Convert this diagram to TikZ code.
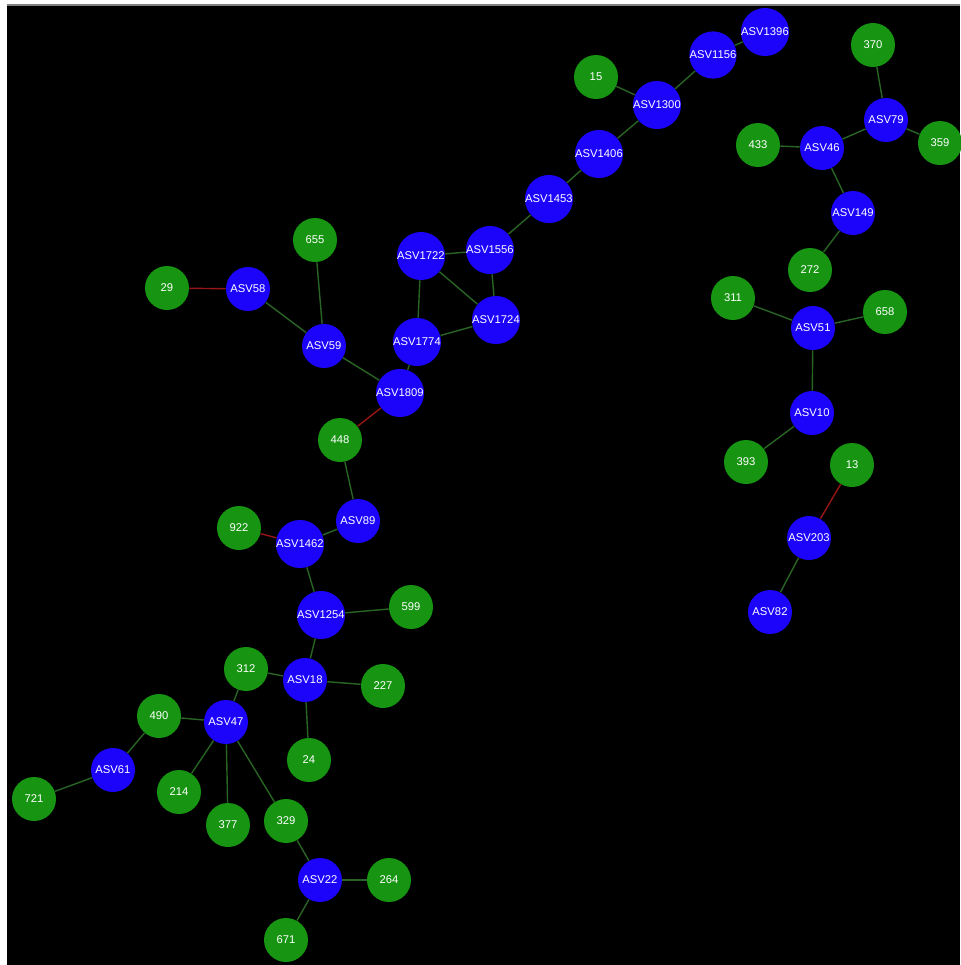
\documentclass[tikz,border=0pt]{standalone}
\usepackage{fontspec}
\setmainfont{Liberation Sans}
\definecolor{asvblue}{RGB}{28,4,250}
\definecolor{otugreen}{RGB}{22,148,18}
\definecolor{poscol}{RGB}{40,100,36}
\definecolor{negcol}{RGB}{150,22,22}
\begin{document}
\begin{tikzpicture}[x=0.02cm, y=-0.02cm,
  asv/.style={shape=circle, fill=asvblue, minimum size=0.88cm, inner sep=0pt, text=white, font=\fontsize{6.4}{7}\selectfont},
  otu/.style={shape=circle, fill=otugreen, minimum size=0.88cm, inner sep=0pt, text=white, font=\fontsize{6.4}{7}\selectfont},
  plink/.style={draw=poscol, line width=0.8pt},
  nlink/.style={draw=negcol, line width=0.8pt}]
\fill [white] (0, 0) rectangle (960, 965);
\fill [black] (7, 5) rectangle (960, 965);
\draw [gray, line width=0.6pt] (7, 5) -- (960, 5);
\useasboundingbox (0, 0) rectangle (960, 965);
% blue nodes
\node at (765, 32) [asv] (a1396) {ASV1396};
\node at (713, 55) [asv] (a1156) {ASV1156};
\node at (657, 105) [asv] (a1300) {ASV1300};
\node at (599, 154) [asv] (a1406) {ASV1406};
\node at (549, 199) [asv] (a1453) {ASV1453};
\node at (490, 250) [asv] (a1556) {ASV1556};
\node at (421, 256) [asv] (a1722) {ASV1722};
\node at (496, 320) [asv] (a1724) {ASV1724};
\node at (417, 342) [asv] (a1774) {ASV1774};
\node at (400, 393) [asv] (a1809) {ASV1809};
\node at (248, 289) [asv] (a58) {ASV58};
\node at (324, 346) [asv] (a59) {ASV59};
\node at (358, 521) [asv] (a89) {ASV89};
\node at (300, 544) [asv] (a1462) {ASV1462};
\node at (321, 615) [asv] (a1254) {ASV1254};
\node at (305, 680) [asv] (a18) {ASV18};
\node at (226, 722) [asv] (a47) {ASV47};
\node at (113, 770) [asv] (a61) {ASV61};
\node at (320, 880) [asv] (a22) {ASV22};
\node at (886, 120) [asv] (a79) {ASV79};
\node at (822, 148) [asv] (a46) {ASV46};
\node at (853, 213) [asv] (a149) {ASV149};
\node at (813, 328) [asv] (a51) {ASV51};
\node at (812, 413) [asv] (a10) {ASV10};
\node at (809, 538) [asv] (a203) {ASV203};
\node at (770, 612) [asv] (a82) {ASV82};
% green nodes
\node at (596, 77) [otu] (n15) {15};
\node at (315, 240) [otu] (n655) {655};
\node at (167, 288) [otu] (n29) {29};
\node at (340, 440) [otu] (n448) {448};
\node at (239, 528) [otu] (n922) {922};
\node at (411, 607) [otu] (n599) {599};
\node at (246, 669) [otu] (n312) {312};
\node at (383, 686) [otu] (n227) {227};
\node at (159, 716) [otu] (n490) {490};
\node at (309, 760) [otu] (n24) {24};
\node at (34, 799) [otu] (n721) {721};
\node at (179, 792) [otu] (n214) {214};
\node at (228, 825) [otu] (n377) {377};
\node at (286, 821) [otu] (n329) {329};
\node at (389, 880) [otu] (n264) {264};
\node at (286, 940) [otu] (n671) {671};
\node at (873, 45) [otu] (n370) {370};
\node at (758, 145) [otu] (n433) {433};
\node at (940, 143) [otu] (n359) {359};
\node at (810, 270) [otu] (n272) {272};
\node at (733, 298) [otu] (n311) {311};
\node at (885, 312) [otu] (n658) {658};
\node at (746, 462) [otu] (n393) {393};
\node at (852, 465) [otu] (n13) {13};
% edges
\draw [plink] (a1396) to (a1156);
\draw [plink] (a1156) to (a1300);
\draw [plink] (n15) to (a1300);
\draw [plink] (a1300) to (a1406);
\draw [plink] (a1406) to (a1453);
\draw [plink] (a1453) to (a1556);
\draw [plink] (a1556) to (a1722);
\draw [plink] (a1556) to (a1724);
\draw [plink] (a1722) to (a1724);
\draw [plink] (a1722) to (a1774);
\draw [plink] (a1774) to (a1724);
\draw [plink] (a1774) to (a1809);
\draw [plink] (a59) to (a1809);
\draw [plink] (a58) to (a59);
\draw [plink] (n655) to (a59);
\draw [nlink] (n29) to (a58);
\draw [nlink] (a1809) to (n448);
\draw [plink] (n448) to (a89);
\draw [plink] (a89) to (a1462);
\draw [nlink] (n922) to (a1462);
\draw [plink] (a1462) to (a1254);
\draw [plink] (a1254) to (n599);
\draw [plink] (a1254) to (a18);
\draw [plink] (a18) to (n312);
\draw [plink] (a18) to (n227);
\draw [plink] (a18) to (n24);
\draw [plink] (n312) to (a47);
\draw [plink] (n490) to (a47);
\draw [plink] (a47) to (n214);
\draw [plink] (a47) to (n377);
\draw [plink] (a47) to (n329);
\draw [plink] (n490) to (a61);
\draw [plink] (a61) to (n721);
\draw [plink] (n329) to (a22);
\draw [plink] (a22) to (n264);
\draw [plink] (a22) to (n671);
\draw [plink] (n370) to (a79);
\draw [plink] (a79) to (a46);
\draw [plink] (a79) to (n359);
\draw [plink] (n433) to (a46);
\draw [plink] (a46) to (a149);
\draw [plink] (a149) to (n272);
\draw [plink] (n311) to (a51);
\draw [plink] (a51) to (n658);
\draw [plink] (a51) to (a10);
\draw [plink] (a10) to (n393);
\draw [nlink] (n13) to (a203);
\draw [plink] (a203) to (a82);
\end{tikzpicture}
\end{document}
